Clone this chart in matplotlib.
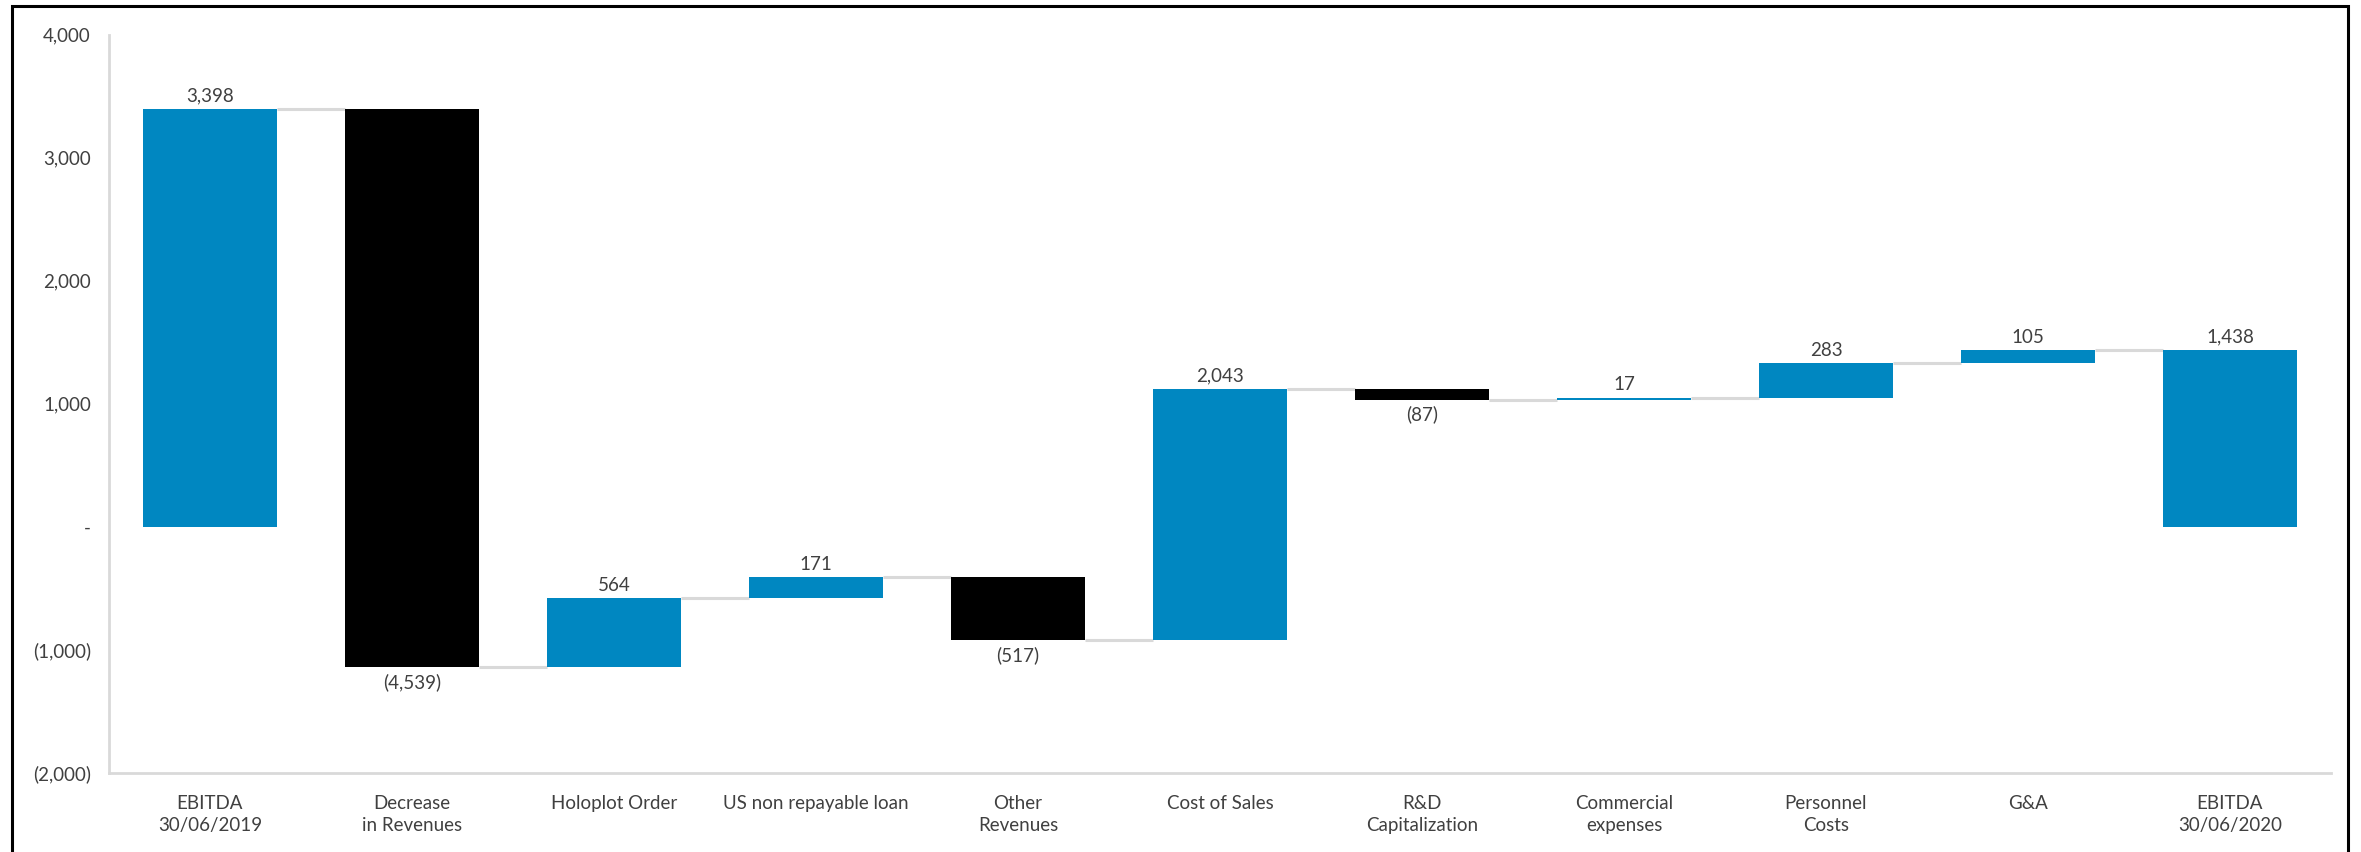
"""EBITDA bridge FY2019 -> FY2020 drawn as a waterfall chart."""

import matplotlib

matplotlib.use("Agg")
import matplotlib.pyplot as plt
from matplotlib.patches import Rectangle
from matplotlib.ticker import FuncFormatter

# --- data -------------------------------------------------------------------
categories = [
    "EBITDA\n30/06/2019",
    "Decrease\nin Revenues",
    "Holoplot Order",
    "US non repayable loan",
    "Other\nRevenues",
    "Cost of Sales",
    "R&D\nCapitalization",
    "Commercial\nexpenses",
    "Personnel\nCosts",
    "G&A",
    "EBITDA\n30/06/2020",
]
values = [3398, -4539, 564, 171, -517, 2043, -87, 17, 283, 105, 1438]
is_total = [True, False, False, False, False, False, False, False, False, False, True]
y_ticks = [-2000, -1000, 0, 1000, 2000, 3000, 4000]

BLUE = "#0087C1"
BLACK = "#000000"
GRID_GREY = "#D9D9D9"
TEXT = "#404040"
BAR_W = 0.66

W, H = 2361, 852

plt.rcParams["font.family"] = ["Lato", "DejaVu Sans"]


def fmt_acct(v, _pos=None):
    """Accounting style: thousands separator, negatives in brackets, zero as dash."""
    if v == 0:
        return "-"
    if v < 0:
        return f"({abs(v):,.0f})"
    return f"{v:,.0f}"


# running level -> bar bottoms and heights
bottoms, heights, colors, ends = [], [], [], []
level = 0
for v, tot in zip(values, is_total):
    if tot:
        bottoms.append(0)
        heights.append(v)
        colors.append(BLUE)
        level = v
    else:
        bottoms.append(level)
        heights.append(v)
        colors.append(BLUE if v >= 0 else BLACK)
        level += v
    ends.append(level)

fig = plt.figure(figsize=(W / 100, H / 100), dpi=100)
ax = fig.add_axes([109 / W, 1 - 773 / H, (2331 - 109) / W, (773 - 34.5) / H])

x = list(range(len(values)))
ax.bar(x, heights, bottom=bottoms, width=BAR_W, color=colors, linewidth=0, zorder=3)

# connector lines between consecutive bars
for i in range(len(values) - 1):
    ax.plot([x[i] + BAR_W / 2, x[i + 1] - BAR_W / 2], [ends[i], ends[i]],
            color=GRID_GREY, lw=2.2, zorder=2, solid_capstyle="butt")

# value labels
for xi, b, h, v in zip(x, bottoms, heights, values):
    if v >= 0:
        ax.annotate(fmt_acct(v), (xi, b + h), xytext=(0, 3), textcoords="offset points",
                    ha="center", va="bottom", fontsize=13.5, color=TEXT)
    else:
        ax.annotate(fmt_acct(v), (xi, b + h), xytext=(0, -4), textcoords="offset points",
                    ha="center", va="top", fontsize=13.5, color=TEXT)

ax.set_xlim(-0.5, len(values) - 0.5)
ax.set_ylim(-2000, 4000)
ax.set_yticks(y_ticks)
ax.yaxis.set_major_formatter(FuncFormatter(fmt_acct))
ax.set_xticks(x)
ax.set_xticklabels(categories, linespacing=1.35)
ax.tick_params(axis="y", length=0, pad=13, labelsize=13.5, labelcolor=TEXT)
ax.tick_params(axis="x", length=0, pad=16, labelsize=13.5, labelcolor=TEXT)

for side in ("top", "right"):
    ax.spines[side].set_visible(False)
for side in ("left", "bottom"):
    ax.spines[side].set_color(GRID_GREY)
    ax.spines[side].set_linewidth(2)

# outer frame around the chart area
fig.add_artist(Rectangle((12 / W, -0.1), (2348 - 12) / W, 1.1 - 6 / H,
                         transform=fig.transFigure, fill=False,
                         edgecolor="black", linewidth=2.2, clip_on=False))

fig.savefig("out.png", dpi=100)
